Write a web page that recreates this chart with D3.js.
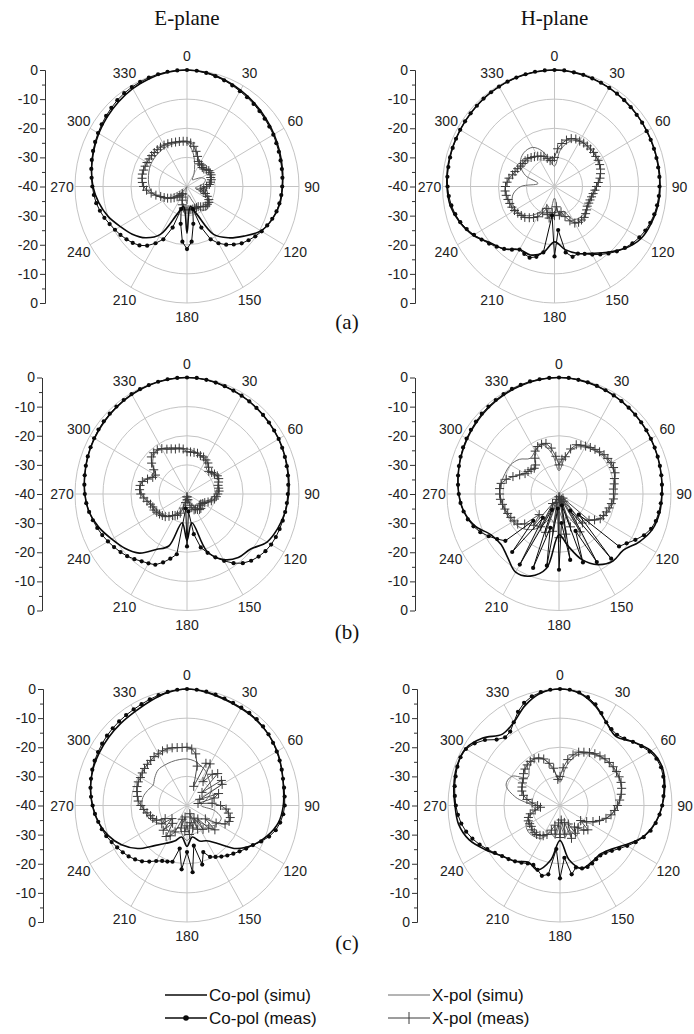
<!DOCTYPE html>
<html><head><meta charset="utf-8">
<script src="https://cdn.jsdelivr.net/npm/d3@7"></script>
<style>body{margin:0;background:#fff}svg{display:block}</style>
</head><body>
<svg id="chart" width="694" height="1034"></svg>
<script>
// ---------- labels ----------
const planeTitles = ["E-plane", "H-plane"];
const rowLabels = ["(a)", "(b)", "(c)"];
const angleTicks = [0,30,60,90,120,150,180,210,240,270,300,330];
const angleTickLabels = ["0","30","60","90","120","150","180","210","240","270","300","330"];
const ringValues = [-30,-20,-10,0];
const dbAxisPos = [0,10,20,30,40,50,60,70,80];
const dbAxisLabels = ["0","-10","-20","-30","-40","-30","-20","-10","0"];
const dbMinorPos = [5,15,25,35,45,55,65,75];
const legendLabels = ["Co-pol (simu)","X-pol (simu)","Co-pol (meas)","X-pol (meas)"];

// angle samples (deg): simulated every 10°, measured every 5°
const angSimu = d3.range(0, 360, 10);
const angMeas = d3.range(0, 360, 5);

// ---------- (a) E-plane ----------
const aE_coSimu = [0,-0.3,-1,-1.8,-2.6,-3.4,-4.1,-4.8,-5.4,-5.9,-6.3,-7.5,
 -9.5,-13.5,-17,-21,-30,-33,-24,-33,-30,-21,-17,-14.5,
 -12.5,-10,-8,-6.4,-5.4,-4.5,-3.6,-2.8,-2,-1.2,-0.6,-0.2];
const aE_coMeas = [0,-0.1,-0.4,-0.8,-1.2,-1.7,-2.2,-2.6,-3,-3.4,-3.8,-4.1,
 -4.4,-4.8,-5.1,-5.4,-5.6,-5.8,-6,-6.2,-6.5,-6.9,-7.6,-8.4,
 -9.2,-10.2,-11.3,-12.4,-14,-15.6,-17.5,-20,-25,-32,-27,-21,
 -18.5,-21,-27,-32,-25,-20,-17.5,-15.2,-13.6,-12.6,-11.8,-11,
 -10.3,-9.5,-8.6,-7.8,-7.1,-6.6,-6.2,-5.8,-5.3,-4.8,-4.3,-3.8,
 -3.3,-2.8,-2.3,-1.8,-1.3,-0.9,-0.6,-0.4,-0.2,-0.1,0,0];
const aE_xSimu = [-25,-28,-32,-35,-37,-36,-34,-33,-34,-36,-37,-34,
 -31,-29.5,-29.5,-31,-35,-37,-34,-37,-40,-40,-38,-35,
 -32,-29.5,-27.5,-26.5,-26,-25.5,-25,-24.8,-24.6,-24.5,-24.5,-24.7];
const aE_xMeas = [-24.5,-25,-26,-27.5,-29,-30.5,-31,-31,-31.5,-31.5,-31,-30.5,
 -30.5,-30.5,-31,-31,-31.5,-32,-33,-34,-35,-34,-33,-32,
 -31,-30.5,-30.5,-30.5,-31,-31.5,-32,-32,-32,-32,-32,-32,
 -32,-32,-32.5,-33.5,-35,-36,-37,-37,-36,-35,-34,-33,
 -32,-31,-30,-28.5,-27,-25.5,-24.5,-24,-23.7,-23.5,-23.5,-23.5,
 -23.5,-23.5,-23.5,-23.5,-23.5,-23.5,-23.6,-23.8,-24,-24.2,-24.3,-24.4];

// ---------- (a) H-plane ----------
const aH_coSimu = [0,-0.2,-0.5,-0.9,-1.3,-1.6,-1.9,-2.1,-2.2,-2.3,-2.5,-3.2,
 -4.3,-7,-10.5,-13.5,-15.5,-18,-21,-17,-15,-15,-12,-10,
 -6.5,-4,-2.2,-1.6,-1.3,-1.2,-1.1,-0.9,-0.6,-0.4,-0.2,-0.1];
const aH_coMeas = [0,0,-0.2,-0.3,-0.5,-0.7,-0.9,-1.1,-1.3,-1.5,-1.7,-1.8,
 -2,-2.1,-2.2,-2.3,-2.4,-2.4,-2.5,-2.6,-2.8,-3.1,-3.6,-4.2,
 -5,-6,-7.2,-8.5,-10,-11.5,-13,-14.5,-15.5,-15,-17,-25,
 -16,-30,-17,-15,-14,-14.5,-15,-13.5,-12,-10.8,-9.5,-8.2,
 -6.8,-5.4,-4.2,-3.3,-2.6,-2.1,-1.8,-1.6,-1.5,-1.4,-1.3,-1.2,
 -1.1,-1,-0.9,-0.8,-0.6,-0.5,-0.4,-0.3,-0.2,-0.1,0,0];
const aH_xSimu = [-33,-27,-23.5,-22,-21.8,-21.8,-22,-22.5,-23.5,-25,-26,-26.5,
 -26.5,-26,-26,-27,-31,-30,-36,-30,-33,-30,-27,-25,
 -24,-24,-25,-28,-34,-29,-26,-24.5,-24,-24.5,-27,-31];
const aH_xMeas = [-30,-27,-25,-23.5,-22.5,-22,-22,-21.8,-21.8,-21.8,-21.8,-22,
 -22,-22.2,-22.5,-23,-23.5,-24.3,-25,-25.5,-26,-26.3,-26.5,-26.5,
 -26.5,-26,-25.5,-25,-25,-25,-25.5,-27,-29,-31,-30,-33,
 -30,-31,-29,-30,-32,-30,-28,-27,-26,-25,-24.5,-24,
 -23.5,-23.2,-23,-22.8,-22.5,-22.3,-22.5,-23,-23.5,-24.5,-25,-25.5,
 -26,-26.2,-26.3,-26.5,-27,-27.5,-28,-28.5,-29,-30,-31,-31];

// ---------- (b) E-plane ----------
const bE_coSimu = [0,-0.2,-0.6,-1,-1.4,-1.8,-2.2,-2.7,-3.2,-3.7,-4.4,-5.5,
 -7,-10.5,-11.5,-14,-19,-30,-24,-30,-21,-18,-13.5,-11,
 -9,-6.5,-4.5,-3.5,-2.9,-2.3,-1.8,-1.4,-1,-0.6,-0.3,-0.1];
const bE_coMeas = [0,0,-0.2,-0.4,-0.6,-0.8,-1,-1.2,-1.4,-1.6,-1.8,-2,
 -2.2,-2.5,-2.8,-3.1,-3.4,-3.7,-4,-4.2,-4.4,-4.6,-4.8,-5,
 -5.3,-5.8,-6.6,-7.6,-9,-11,-13.5,-16,-18.5,-21,-26,-34,
 -22,-35,-19,-17,-15,-13.2,-12.5,-11.8,-10.8,-9.8,-9,-8.2,
 -7.4,-6.6,-5.9,-5.2,-4.5,-3.9,-3.5,-3.2,-2.9,-2.6,-2.3,-2,
 -1.7,-1.4,-1.2,-1,-0.8,-0.6,-0.4,-0.3,-0.2,-0.1,0,0];
const bE_xSimu = [-24.5,-25,-26,-27,-29,-29,-27.5,-28,-29,-30,-31,-33,
 -35,-34,-34,-35,-37,-38,-37,-38,-34,-32,-30,-29,
 -28,-27.5,-26,-24,-23,-24.5,-27,-24,-22,-22,-23,-24];
const bE_xMeas = [-25.5,-25.5,-25.5,-25.5,-26,-26,-26.5,-27,-28,-29,-28.5,-28,
 -27.5,-27.5,-28,-28.5,-28.5,-28.5,-29,-29.5,-30,-31,-32,-33,
 -33.5,-34,-34,-33,-33,-33.5,-34,-34,-35,-36,-38,-39,
 -38,-39,-37,-35,-33,-32,-31.5,-31,-30,-29,-28.5,-28,
 -27.5,-27,-27,-26.5,-25.5,-24.5,-23.5,-23,-23,-23.5,-25,-26.5,
 -27,-25.5,-23.5,-22,-21.5,-21.5,-22,-23,-23.5,-24,-24,-24.5];

// ---------- (b) H-plane ----------
const bH_coSimu = [0,-0.2,-0.5,-0.9,-1.3,-1.7,-2.1,-2.5,-2.9,-3.2,-3.5,-4.5,
 -7,-10,-10,-12,-16,-22,-26,-14,-10,-9,-11.5,-13,
 -12,-8,-5.5,-4.2,-3.4,-2.7,-2.1,-1.6,-1.1,-0.7,-0.4,-0.1];
const bH_coMeas = [0,0,-0.2,-0.3,-0.5,-0.7,-0.9,-1.1,-1.3,-1.5,-1.7,-1.9,
 -2.1,-2.3,-2.5,-2.7,-2.9,-3.1,-3.3,-3.5,-3.8,-4.2,-5,-6.5,
 -8.5,-10.5,-12,-30,-11,-33,-13,-26,-15,-36,-17,-30,
 -14,-35,-15,-28,-13,-34,-12,-30,-14,-27,-15,-13,
 -11,-9,-7.5,-6.3,-5.4,-4.7,-4.2,-3.8,-3.4,-3,-2.6,-2.2,
 -1.9,-1.6,-1.3,-1,-0.8,-0.6,-0.4,-0.2,-0.1,0,0,0];
const bH_xSimu = [-32,-27,-23,-21.5,-20.5,-19.5,-19,-19,-19.5,-20,-20.5,-21.5,
 -23,-26,-30,-28,-32,-30,-34,-30,-31,-27,-24,-22,
 -21,-20,-19.5,-19,-19,-19.5,-20,-21.5,-24,-23,-22,-26];
const bH_xMeas = [-30,-28,-27,-24,-22,-21.5,-21,-20.5,-20,-19.5,-19,-18.7,
 -18.5,-18.5,-18.7,-19.5,-20,-20.5,-20.5,-20.5,-21,-21.5,-22,-22.5,
 -23,-24.5,-26,-38,-27,-37,-25,-38,-28,-39,-26,-38,
 -25,-39,-27,-37,-26,-38,-27,-36,-26,-30,-24,-22,
 -21.5,-21,-20.5,-20,-19.5,-19,-18.8,-18.7,-19,-20.5,-22.5,-24.5,
 -26,-26.5,-27,-27.5,-27,-25,-23,-22,-21.8,-22,-24,-27];

// ---------- (c) E-plane ----------
const cE_coSimu = [0,-0.5,-1.2,-1.5,-1.6,-2,-2.8,-4,-5,-5.6,-6.8,-9.5,
 -12.8,-17,-23,-26,-27,-29,-26,-29,-27,-25,-22,-17,
 -13,-10,-7.8,-6.2,-5,-4.2,-3.8,-3.5,-3.2,-2.8,-1.8,-0.6];
const cE_coMeas = [0,-0.1,-0.3,-0.6,-0.9,-1.1,-1.2,-1.2,-1.3,-1.6,-2,-2.5,
 -3,-3.5,-4,-4.5,-4.8,-5,-5.1,-5.5,-6.2,-7.2,-8.8,-10.8,
 -12.8,-14.2,-15.5,-16.6,-17.6,-18.6,-19.6,-20.5,-23,-19,-26,-17,
 -24,-18,-25,-20,-19.5,-19,-18,-16.5,-15,-13.8,-12.8,-12,
 -11.2,-10.3,-9.3,-8.5,-7.8,-7,-6.3,-5.6,-5,-4.5,-4,-3.6,
 -3.3,-3,-2.7,-2.5,-2.3,-2.1,-1.9,-1.6,-1.2,-0.8,-0.4,-0.1];
const cE_xSimu = [-24,-24.5,-25.5,-26.5,-28,-29,-30,-32,-34,-35,-30,-27,
 -27.5,-29,-32,-34,-33,-30,-28,-30,-32,-30,-29,-30,
 -28,-26,-25,-24,-24,-25,-26,-25,-24,-24,-24,-24];
const cE_xMeas = [-20,-20.5,-22,-26,-33,-24,-23.5,-30,-26,-24.5,-33,-25,
 -25.5,-35,-28,-30,-36,-31,-28,-26,-25,-24,-24,-25,
 -28,-32,-27,-29,-34,-30,-35,-31,-37,-32,-34,-30,
 -33,-31,-36,-32,-35,-30,-28,-27,-32,-28,-33,-29,
 -31,-28,-27,-26.5,-25.5,-24.5,-23.5,-22.5,-22,-21.5,-21,-20.8,
 -20.8,-20.5,-20.2,-20,-19.8,-19.5,-19.5,-19.3,-19.3,-19.5,-19.8,-20];

// ---------- (c) H-plane ----------
const cH_coSimu = [0,-0.8,-3.5,-7,-9,-6,-2.5,-1.2,-2,-3.5,-5.5,-8.5,
 -13,-16.5,-18,-17.5,-17,-21,-28,-21,-16.5,-17.5,-15,-13,
 -9.5,-5.5,-3.2,-2.5,-1.5,-0.8,-1,-4,-8,-7,-3.5,-0.8];
const cH_coMeas = [0,-0.1,-0.6,-1.5,-3,-5,-7,-8,-8.3,-7.5,-6,-4.5,
 -3,-2,-1.6,-1.8,-2.3,-2.9,-3.5,-4.3,-5.3,-6.5,-8.2,-10.2,
 -12.3,-14.2,-15.8,-17,-17.6,-17.5,-17,-16.7,-17,-18,-16,-22,
 -15,-25,-16,-15,-16.5,-17.5,-17,-16,-15,-14,-13,-11.6,
 -10,-8.3,-6.7,-5.3,-4.2,-3.4,-2.8,-2.3,-1.8,-1.4,-1,-0.8,
 -1.2,-2.8,-5,-8,-9.5,-9,-7,-4.5,-2.5,-1.2,-0.5,-0.1];
const cH_xSimu = [-32,-26,-21.5,-19.5,-18,-17.3,-17,-17,-17.8,-19.3,-21.5,-24.5,
 -28,-31,-30,-28,-31,-29,-33,-29,-30,-27,-26,-25.5,
 -26,-28,-31,-30,-24,-19.5,-20,-25,-23,-21.5,-23,-28];
const cH_xMeas = [-30,-27,-24,-22,-20.5,-19.8,-19,-18.3,-17.8,-17.3,-17,-16.8,
 -16.7,-16.7,-16.8,-17.2,-17.8,-18.6,-19.5,-20.5,-21.5,-23,-25,-27,
 -29,-31,-27,-28,-30,-31,-29,-33,-28,-34,-30,-35,
 -29,-34,-30,-33,-31,-29,-28,-27.5,-27,-27,-27,-27.5,
 -27.5,-27.5,-28,-29,-31,-33,-32,-30,-28,-26.5,-25.5,-25,
 -24.5,-24,-23,-22.3,-21.8,-21.5,-21.5,-22,-23,-25,-27,-31];

// ---------- layout ----------
const RX = 112, RY = 116.5;
const plots = [
  {cx:187,   cy:186.5, ax:45,  data:[aE_coSimu,aE_coMeas,aE_xSimu,aE_xMeas]},
  {cx:554.5, cy:186.5, ax:415, data:[aH_coSimu,aH_coMeas,aH_xSimu,aH_xMeas]},
  {cx:187,   cy:494,   ax:42,  data:[bE_coSimu,bE_coMeas,bE_xSimu,bE_xMeas]},
  {cx:559,   cy:494,   ax:415, data:[bH_coSimu,bH_coMeas,bH_xSimu,bH_xMeas]},
  {cx:187,   cy:805.5, ax:43,  data:[cE_coSimu,cE_coMeas,cE_xSimu,cE_xMeas]},
  {cx:560,   cy:805.5, ax:417, data:[cH_coSimu,cH_coMeas,cH_xSimu,cH_xMeas]}
];
const NUM_FONT = "'Liberation Sans', Arial, sans-serif";
const SERIF = "'Liberation Serif', 'Times New Roman', serif";
const GRID = "#c4c4c4";
const CO = "#0a0a0a", XS = "#6a6a6a", XM = "#3a3a3a";

const svg = d3.select("#chart");
svg.append("rect").attr("width",694).attr("height",1034).attr("fill","#fff");

const rScale = d3.scaleLinear().domain([-40, 0]).range([0, 1]).clamp(true);

function drawPlot(p) {
  const g = svg.append("g");
  const px = (deg, db) => p.cx + rScale(db) * RX * Math.sin(deg * Math.PI / 180);
  const py = (deg, db) => p.cy - rScale(db) * RY * Math.cos(deg * Math.PI / 180);

  g.selectAll(".ring").data(ringValues).join("ellipse")
    .attr("cx", p.cx).attr("cy", p.cy)
    .attr("rx", d => rScale(d) * RX).attr("ry", d => rScale(d) * RY)
    .attr("fill", "none").attr("stroke", GRID).attr("stroke-width", 1);
  g.selectAll(".spoke").data(angleTicks).join("line")
    .attr("x1", p.cx).attr("y1", p.cy)
    .attr("x2", d => px(d, 0)).attr("y2", d => py(d, 0))
    .attr("stroke", GRID).attr("stroke-width", 1);
  g.selectAll(".alab").data(angleTicks).join("text")
    .attr("x", d => p.cx + (RX + 13) * Math.sin(d * Math.PI / 180))
    .attr("y", d => p.cy - (RY + 14) * Math.cos(d * Math.PI / 180))
    .attr("text-anchor", "middle").attr("dominant-baseline", "central")
    .attr("font-family", NUM_FONT).attr("font-size", 14).attr("fill", "#222")
    .text((d, i) => angleTickLabels[i]);

  const yScale = d3.scaleLinear().domain([0, 80]).range([p.cy - RY, p.cy + RY]);
  const major = d3.axisLeft(yScale).tickValues(dbAxisPos).tickSize(5).tickSizeOuter(0)
    .tickPadding(2).tickFormat((d, i) => dbAxisLabels[i]);
  const minor = d3.axisLeft(yScale).tickValues(dbMinorPos).tickSize(3).tickSizeOuter(0).tickFormat("");
  const ga = g.append("g").attr("transform", `translate(${p.ax},0)`).call(major);
  const gm = g.append("g").attr("transform", `translate(${p.ax},0)`).call(minor);
  [ga, gm].forEach(s => {
    s.selectAll("path,line").attr("stroke", "#333").attr("stroke-width", 1);
    s.selectAll("text").attr("font-family", NUM_FONT).attr("font-size", 14).attr("fill", "#222");
  });

  const [coSimu, coMeas, xSimu, xMeas] = p.data;
  const simuLine = d3.line().x(d => px(d[0], d[1])).y(d => py(d[0], d[1]))
    .curve(d3.curveCatmullRomClosed.alpha(0.5));
  const measLine = d3.line().x(d => px(d[0], d[1])).y(d => py(d[0], d[1]))
    .curve(d3.curveLinearClosed);

  const xs = angSimu.map((a, i) => [a, xSimu[i]]);
  const xm = angMeas.map((a, i) => [a, xMeas[i]]);
  const cs = angSimu.map((a, i) => [a, coSimu[i]]);
  const cm = angMeas.map((a, i) => [a, coMeas[i]]);

  g.append("path").attr("d", simuLine(xs)).attr("fill", "none").attr("stroke", XS).attr("stroke-width", 1);
  g.append("path").attr("d", measLine(xm)).attr("fill", "none").attr("stroke", XM).attr("stroke-width", 0.9);
  g.selectAll(".plus").data(xm).join("path")
    .attr("d", d => { const x = px(d[0], d[1]), y = py(d[0], d[1]);
      return `M${x-4.5},${y}H${x+4.5}M${x},${y-4.5}V${y+4.5}`; })
    .attr("stroke", XM).attr("stroke-width", 1).attr("fill", "none");
  g.append("path").attr("d", simuLine(cs)).attr("fill", "none").attr("stroke", CO).attr("stroke-width", 1.6);
  g.append("path").attr("d", measLine(cm)).attr("fill", "none").attr("stroke", CO).attr("stroke-width", 1);
  g.selectAll(".dot").data(cm).join("circle")
    .attr("cx", d => px(d[0], d[1])).attr("cy", d => py(d[0], d[1]))
    .attr("r", 2.1).attr("fill", CO);
}
plots.forEach(drawPlot);

[187, 554.5].forEach((x, i) => svg.append("text").attr("x", x).attr("y", 25)
  .attr("text-anchor", "middle").attr("font-family", SERIF).attr("font-size", 21).attr("fill", "#111")
  .text(planeTitles[i]));
[322, 632, 943].forEach((y, i) => svg.append("text").attr("x", 347).attr("y", y)
  .attr("text-anchor", "middle").attr("dominant-baseline", "central")
  .attr("font-family", SERIF).attr("font-size", 21).attr("fill", "#111").text(rowLabels[i]));

const lg = svg.append("g");
const legRows = [{x:165, y:995, i:0, type:"coSimu"}, {x:388, y:995, i:1, type:"xSimu"},
                 {x:165, y:1018, i:2, type:"coMeas"}, {x:388, y:1018, i:3, type:"xMeas"}];
legRows.forEach(r => {
  const col = r.type.startsWith("co") ? CO : (r.type === "xSimu" ? XS : XM);
  lg.append("line").attr("x1", r.x).attr("x2", r.x + 42).attr("y1", r.y).attr("y2", r.y)
    .attr("stroke", col).attr("stroke-width", r.type === "coSimu" ? 1.6 : (r.type === "coMeas" ? 1.4 : 1));
  if (r.type === "coMeas") lg.append("circle").attr("cx", r.x + 21).attr("cy", r.y).attr("r", 2.8).attr("fill", CO);
  if (r.type === "xMeas") lg.append("path").attr("d", `M${r.x+21},${r.y-6}V${r.y+6}`).attr("stroke", col).attr("stroke-width", 1);
  lg.append("text").attr("x", r.x + 44).attr("y", r.y).attr("dominant-baseline", "central")
    .attr("font-family", NUM_FONT).attr("font-size", 17).attr("fill", "#111").text(legendLabels[r.i]);
});
</script>
</body></html>
